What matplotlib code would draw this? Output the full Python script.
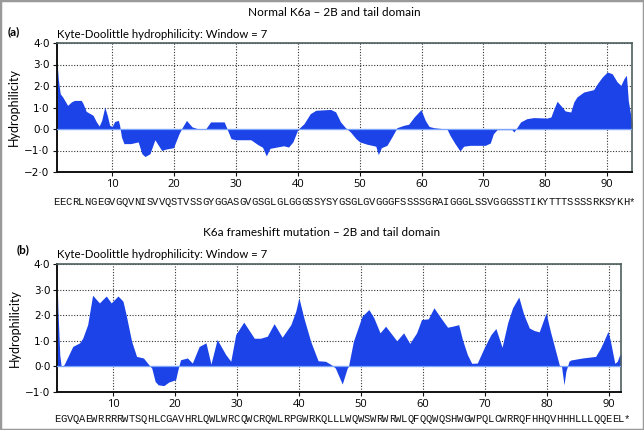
import matplotlib
matplotlib.use("Agg")
import matplotlib.pyplot as plt
import matplotlib.transforms as mtransforms
from matplotlib.patches import Rectangle

plt.rcParams['font.family'] = ['Lato', 'DejaVu Sans']

# ---------------- data ----------------
title_a = "Normal K6a \u2013 2B and tail domain"
title_b = "K6a frameshift mutation \u2013 2B and tail domain"
subtitle = "Kyte-Doolittle hydrophilicity: Window = 7"
seq_a = "EECRLNGEGVGQVNISVVQSTVSSGYGGASGVGSGLGLGGGSSYSYGSGLGVGGGFSSSSGRAIGGGLSSVGGGSSTIKYTTTSSSSRKSYKH*"
seq_b = "EGVQAEWRRRRWTSQHLCGAVHRLQWLWRCQWCRQWLRPGWRKQLLLWQWSWRWRWLQFQQWQSHWGWPQLCWRRQFHHQVHHHLLLQQEEL*"

pos_a = [1.0, 1.3, 1.6, 2.0, 2.8, 3.4, 3.9, 5.0, 5.3, 5.8, 6.9, 7.45, 7.9, 8.3, 8.8,
         9.2, 9.6, 10.0, 10.4, 11.0, 11.2, 11.5, 11.9, 13.0, 14.2, 14.8, 15.3, 16.1,
         16.9, 18.0, 18.6, 19.9, 20.8, 21.3, 22.0, 22.9, 23.75, 25.1, 25.9, 28.1, 28.5,
         29.2, 30.0, 32.4, 33.5, 34.3, 34.9, 35.5, 37.7, 38.5, 39.2, 40.0, 41.0, 42.0,
         42.9, 45.3, 46.1, 46.9, 47.7, 48.5, 49.4, 50.0, 51.2, 52.6, 53.0, 53.5, 54.4,
         55.2, 55.8, 56.0, 57.1, 57.9, 58.8, 59.9, 60.6, 61.2, 62.0, 63.0, 64.1, 64.6,
         65.4, 66.2, 66.8, 67.8, 70.3, 71.1, 71.6, 72.2, 74.6, 74.9, 75.3, 76.0, 77.0,
         78.1, 80.3, 80.9, 81.4, 81.9, 82.7, 83.2, 84.1, 84.6, 85.1, 86.2, 87.8, 88.4,
         89.2, 90.0, 90.8, 91.6, 92.2, 92.7, 93.1, 93.4, 93.7, 94.0]
hyd_a = [3.45, 2.3, 1.64, 1.49, 1.1, 1.26, 1.33, 1.33, 1.18, 0.82, 0.64, 0.33, 0.14, 0.4, 1.02,
         0.64, 0.17, 0.12, 0.35, 0.4, 0.17, -0.37, -0.68, -0.68, -0.6, -1.15, -1.28, -1.15,
         -0.5, -1.0, -0.94, -0.87, -0.22, 0.06, 0.4, 0.1, 0.02, 0.0, 0.33, 0.33, 0.05,
         -0.45, -0.5, -0.5, -0.72, -0.85, -1.25, -0.9, -0.78, -0.84, -0.6, -0.02, 0.25, 0.71,
         0.87, 0.91, 0.8, 0.33, 0.06, -0.14, -0.45, -0.6, -0.71, -0.8, -1.19, -0.87, -0.76,
         -0.37, -0.06, 0.06, 0.17, 0.22, 0.56, 0.9, 0.4, 0.12, 0.06, 0.03, 0.0, -0.3,
         -0.68, -1.02, -0.8, -0.76, -0.76, -0.65, -0.22, -0.03, -0.03, -0.14, 0.02, 0.33, 0.48,
         0.53, 0.51, 0.56, 0.95, 1.29, 1.02, 0.84, 0.79, 1.26, 1.49, 1.72, 1.83, 2.11,
         2.42, 2.65, 2.57, 2.19, 2.03, 2.34, 2.5, 1.33, 0.8, 0.33]

pos_b = [1.0, 1.1, 1.25, 1.4, 1.6, 1.8, 2.1, 3.5, 4.6, 5.1, 5.9, 6.7, 7.8, 8.9, 9.7,
         10.8, 11.6, 12.1, 13.0, 13.8, 14.9, 16.0, 16.25, 16.8, 17.3, 18.2, 19.0, 20.1,
         20.6, 20.9, 22.0, 22.8, 23.9, 25.0, 25.8, 26.8, 28.2, 29.0, 29.8, 31.1, 32.8,
         33.8, 34.9, 36.0, 37.3, 38.7, 39.5, 40.0, 40.8, 41.9, 43.1, 44.3, 45.4, 45.9,
         47.0, 47.8, 48.0, 48.8, 50.2, 51.3, 52.1, 53.1, 54.0, 55.8, 56.9, 57.9, 59.0,
         59.8, 60.9, 61.8, 62.9, 64.0, 64.8, 65.8, 66.4, 67.2, 67.9, 68.8, 69.9, 71.0,
         71.8, 72.8, 73.7, 74.5, 75.5, 76.3, 77.2, 78.0, 78.8, 79.9, 80.6, 81.6, 82.1,
         82.4, 82.8, 83.1, 83.6, 83.9, 85.8, 87.9, 88.7, 89.2, 89.9, 90.3, 91.0, 91.4,
         91.8, 92.0]
hyd_b = [3.1, 2.2, 1.35, 0.45, 0.05, 0.0, 0.07, 0.78, 0.92, 1.1, 1.63, 2.78, 2.48, 2.75, 2.48,
         2.75, 2.55, 2.03, 0.98, 0.39, 0.33, 0.0, -0.07, -0.59, -0.72, -0.75, -0.61, -0.52,
         0.0, 0.26, 0.33, 0.13, 0.78, 0.92, 0.09, 1.05, 0.46, 0.2, 1.24, 1.73, 1.1,
         1.1, 1.18, 1.67, 1.14, 1.63, 2.16, 2.68, 1.9, 0.98, 0.22, 0.2, 0.04, -0.07,
         -0.69, -0.07, 0.0, 0.98, 1.96, 2.22, 1.9, 1.31, 1.57, 1.0, 1.31, 0.9, 1.31,
         1.83, 1.86, 2.29, 1.9, 1.53, 1.57, 1.63, 1.05, 0.46, 0.12, 0.13, 0.72, 1.24,
         1.48, 0.75, 1.7, 2.29, 2.71, 2.03, 1.5, 1.4, 1.35, 2.09, 1.37, 0.46, 0.0,
         0.0, -0.72, -0.2, 0.2, 0.25, 0.33, 0.39, 0.72, 0.98, 1.37, 0.98, 0.12, 0.2,
         0.46, 0.46]

xticks = [10, 20, 30, 40, 50, 60, 70, 80, 90]
yticks_a = [-2, -1, 0, 1, 2, 3, 4]
yticks_b = [-1, 0, 1, 2, 3, 4]

# ---------------- style ----------------
FILL = '#1b43e8'
ZERO = '#7aa4ff'
TICKFONT = ['DejaVu Sans']


def fmt(v):
    s = f"{abs(v):.1f}".replace('.', '\u00b7')
    return ('\u2212' + s) if v < 0 else s


fig = plt.figure(figsize=(6.44, 4.30), dpi=100)
fig.patch.set_facecolor('white')
fig.add_artist(Rectangle((0, 0), 1, 1, transform=fig.transFigure, fill=False,
                         edgecolor='#9a9a9a', lw=2.5))


def panel(rect, pos, vals, yticks, xmax, seq, seq_y):
    ax = fig.add_axes(rect)
    ax.fill_between(pos, 0, vals, color=FILL, lw=0, zorder=2)
    ax.axhline(0, color=ZERO, lw=0.9, zorder=3)
    ax.set_xlim(1, xmax)
    ax.set_ylim(yticks[0], yticks[-1])
    ax.set_xticks(xticks)
    ax.set_xticklabels([str(t) for t in xticks], fontsize=8, family=['Open Sans', 'DejaVu Sans'])
    ax.set_yticks(yticks)
    ax.set_yticklabels([fmt(v) for v in yticks], fontsize=7.5, family=TICKFONT)
    ax.grid(True, linestyle=(0, (1, 1.5)), color='#333333', lw=0.8, zorder=1)
    ax.set_axisbelow(True)
    for s in ('left', 'bottom'):
        ax.spines[s].set_color('#111111')
        ax.spines[s].set_linewidth(1.4)
    for s in ('top', 'right'):
        ax.spines[s].set_color('#4f5f5f')
        ax.spines[s].set_linewidth(1.2)
    ax.tick_params(axis='both', length=3, width=0.8, color='#111111', pad=2)
    ax.tick_params(axis='x', pad=2)
    ax.set_ylabel('Hydrophilicity', fontsize=9, labelpad=3)
    trans = mtransforms.blended_transform_factory(ax.transData, ax.transAxes)
    for k, ch in enumerate(seq):
        ax.text(k + 1, seq_y, ch, transform=trans, ha='center', va='center',
                fontsize=7.6, family='Liberation Mono', color='#111111')
    return ax


ax_a = panel([56.5 / 644, 1 - 172 / 430, 575.5 / 644, 129 / 430], pos_a, hyd_a,
             yticks_a, 94, seq_a, -0.233)
ax_b = panel([57.3 / 644, 1 - 392 / 430, 563.7 / 644, 128 / 430], pos_b, hyd_b,
             yticks_b, 92, seq_b, -0.211)

fig.text(334 / 644, 1 - 13 / 430, title_a, ha='center', va='center', fontsize=8.5)
fig.text(322 / 644, 1 - 233 / 430, title_b, ha='center', va='center', fontsize=8.5)
fig.text(8 / 644, 1 - 32 / 430, '(a)', ha='left', va='center', fontsize=8.5, fontweight='bold')
fig.text(17 / 644, 1 - 250 / 430, '(b)', ha='left', va='center', fontsize=8.5, fontweight='bold')
fig.text(57 / 644, 1 - 34 / 430, subtitle, ha='left', va='center', fontsize=8.2)
fig.text(57 / 644, 1 - 255 / 430, subtitle, ha='left', va='center', fontsize=8.2)

fig.savefig('out.png', dpi=100)
